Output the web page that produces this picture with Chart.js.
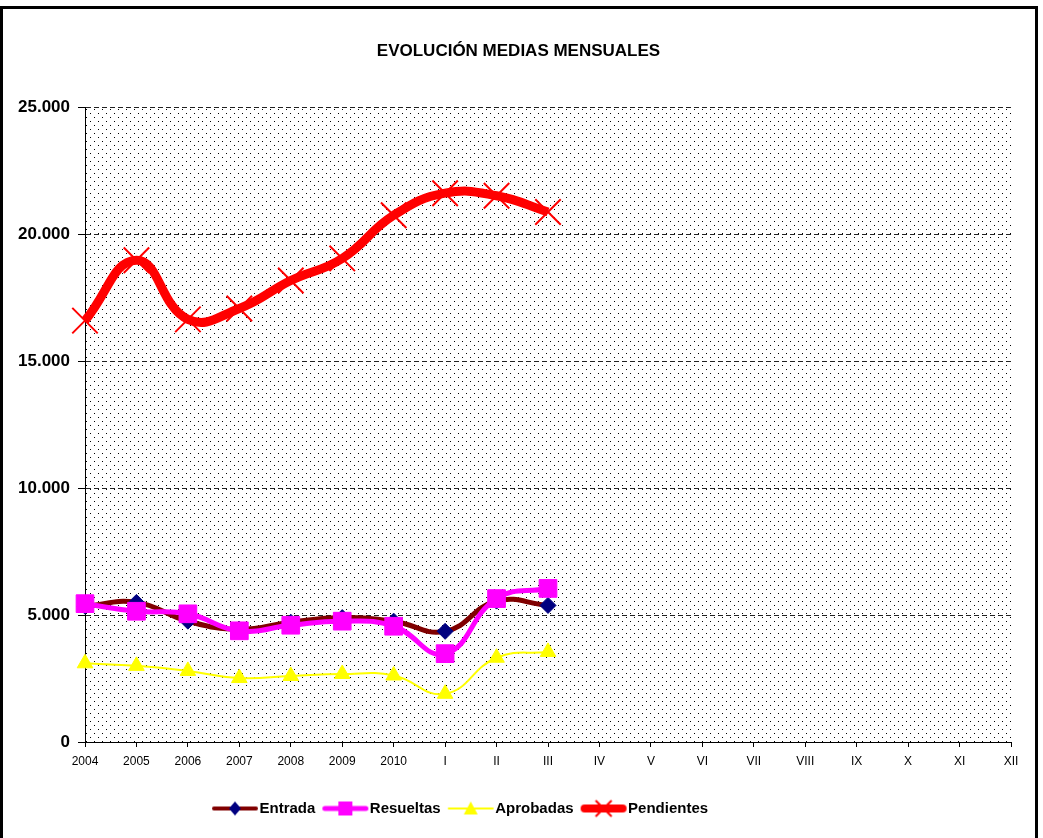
<!DOCTYPE html>
<html>
<head>
<meta charset="utf-8">
<script src="https://cdn.jsdelivr.net/npm/chart.js@4/dist/chart.umd.min.js"></script>
<style>
  html, body { margin: 0; padding: 0; background: #fff; }
  #wrap { position: absolute; left: 0; top: 0; width: 1043px; height: 838px; }
</style>
</head>
<body>
<div id="wrap"><canvas id="c" width="1043" height="838"></canvas></div>
<script>
const categories = ['2004','2005','2006','2007','2008','2009','2010','I','II','III','IV','V','VI','VII','VIII','IX','X','XI','XII'];
const entrada    = [5350, 5500, 4760, 4440, 4720, 4900, 4760, 4360, 5550, 5380];
const resueltas  = [5450, 5150, 5050, 4380, 4600, 4760, 4560, 3480, 5650, 6050];
const aprobadas  = [3100, 3000, 2800, 2520, 2600, 2680, 2620, 1900, 3320, 3550];
const pendientes = [16600, 18980, 16650, 17080, 18180, 19050, 20750, 21620, 21520, 20880];
const yTicks = [0, 5000, 10000, 15000, 20000, 25000];

const FONT = "'Liberation Sans', Arial, sans-serif";

function fmt(v) {
  return String(v).replace(/\B(?=(\d{3})+(?!\d))/g, '.');
}

// legend symbols: line with marker; symbol occupies x in [9, 55] of a 58px image
function legendSymbol(lineColor, lineWidth, drawMarker) {
  const c = document.createElement('canvas');
  c.width = 58; c.height = 22;
  const g = c.getContext('2d');
  const x0 = 9 + lineWidth / 2, x1 = 55 - lineWidth / 2;
  g.strokeStyle = lineColor; g.lineWidth = lineWidth; g.lineCap = 'round';
  g.beginPath(); g.moveTo(x0, 11); g.lineTo(x1, 11); g.stroke();
  drawMarker(g, 32, 11);
  return c;
}
const symEntrada = legendSymbol('#800000', 4, (g, x, y) => {
  g.fillStyle = '#000080';
  g.beginPath(); g.moveTo(x, y - 7); g.lineTo(x + 6, y); g.lineTo(x, y + 7); g.lineTo(x - 6, y); g.closePath(); g.fill();
});
const symResueltas = legendSymbol('#FF00FF', 5, (g, x, y) => {
  g.fillStyle = '#FF00FF'; g.fillRect(x - 7, y - 7, 14, 14);
});
const symAprobadas = legendSymbol('#FFFF00', 2, (g, x, y) => {
  g.fillStyle = '#FFFF00';
  g.beginPath(); g.moveTo(x, y - 7); g.lineTo(x + 7, y + 6); g.lineTo(x - 7, y + 6); g.closePath(); g.fill();
});
const symPendientes = legendSymbol('#FF0000', 8, (g, x, y) => {
  g.strokeStyle = '#FF0000'; g.lineWidth = 2; g.lineCap = 'butt';
  g.beginPath(); g.moveTo(x - 8, y - 8); g.lineTo(x + 8, y + 8); g.moveTo(x + 8, y - 8); g.lineTo(x - 8, y + 8); g.stroke();
});

// dotted background pattern
const pat = document.createElement('canvas');
pat.width = 8; pat.height = 8;
(function () {
  const g = pat.getContext('2d');
  g.fillStyle = '#ffffff'; g.fillRect(0, 0, 8, 8);
  g.fillStyle = '#000000';
  g.fillRect(2, 1, 1, 1);
  g.fillRect(6, 5, 1, 1);
})();

const bgPlugin = {
  id: 'bgPlugin',
  afterLayout(chart) {
    if (chart.legend) {
      const w = chart.legend.right - chart.legend.left;
      chart.legend.left = 205;
      chart.legend.right = 205 + w;
    }
    if (chart.titleBlock) {
      chart.titleBlock.left += 13;
      chart.titleBlock.right += 13;
    }
  },
  beforeDraw(chart) {
    const ctx = chart.ctx, a = chart.chartArea;
    ctx.save();
    ctx.fillStyle = '#ffffff';
    ctx.fillRect(0, 0, chart.width, chart.height);
    ctx.fillStyle = ctx.createPattern(pat, 'repeat');
    ctx.fillRect(a.left, a.top, a.right - a.left, a.bottom - a.top);
    ctx.restore();
  },
  afterDraw(chart) {
    const ctx = chart.ctx;
    ctx.save();
    ctx.strokeStyle = '#000';
    ctx.lineWidth = 3;
    ctx.strokeRect(1.5, 7.5, 1035, 840);
    ctx.restore();
  }
};

new Chart(document.getElementById('c'), {
  type: 'line',
  data: {
    labels: categories,
    datasets: [
      { label: 'Entrada', data: entrada, order: 3, borderColor: '#800000', borderWidth: 5, tension: 0.45,
        pointStyle: 'rectRot', pointRadius: 8, pointBackgroundColor: '#000080', pointBorderColor: '#000080', pointBorderWidth: 1,
        legendSym: symEntrada },
      { label: 'Resueltas', data: resueltas, order: 2, borderColor: '#FF00FF', borderWidth: 5, tension: 0.45,
        pointStyle: 'rect', pointRadius: 12.5, pointBackgroundColor: '#FF00FF', pointBorderColor: '#FF00FF', pointBorderWidth: 1,
        legendSym: symResueltas },
      { label: 'Aprobadas', data: aprobadas, order: 1, borderColor: '#FFFF00', borderWidth: 2, tension: 0.45,
        pointStyle: 'triangle', pointRadius: 9, pointBackgroundColor: '#FFFF00', pointBorderColor: '#FFFF00', pointBorderWidth: 1,
        legendSym: symAprobadas },
      { label: 'Pendientes', data: pendientes, order: 0, borderColor: '#FF0000', borderWidth: 9, tension: 0.45,
        pointStyle: 'crossRot', pointRadius: 18, pointBackgroundColor: '#FF0000', pointBorderColor: '#FF0000', pointBorderWidth: 2,
        legendSym: symPendientes }
    ]
  },
  options: {
    responsive: false,
    animation: false,
    devicePixelRatio: 1,
    layout: { padding: { left: 0, right: 32, top: 0, bottom: 12 } },
    plugins: {
      title: {
        display: true, text: 'EVOLUCIÓN MEDIAS MENSUALES', color: '#000',
        font: { family: FONT, size: 17, weight: 'bold' },
        padding: { top: 41, bottom: 46 }
      },
      legend: {
        position: 'bottom',
        align: 'start',
        labels: {
          usePointStyle: true, pointStyleWidth: 40, boxHeight: 20, padding: 7,
          color: '#000', font: { family: FONT, size: 15, weight: 'bold' },
          generateLabels(chart) {
            return chart.data.datasets.map((ds, i) => ({
              text: ds.label, pointStyle: ds.legendSym, fillStyle: 'transparent', strokeStyle: 'transparent',
              lineWidth: 0, datasetIndex: i, hidden: false, fontColor: '#000'
            }));
          }
        }
      },
      tooltip: { enabled: false }
    },
    scales: {
      x: {
        offset: false,
        grid: { display: true, drawOnChartArea: false, drawTicks: true, tickLength: 5, color: '#000', tickColor: '#000' },
        border: { display: true, color: '#000', width: 1 },
        ticks: { color: '#000', font: { family: FONT, size: 12 }, padding: 7, maxRotation: 0, autoSkip: false },
        afterFit(scale) { scale.height = 52; }
      },
      y: {
        min: 0, max: 25000,
        afterBuildTicks(scale) { scale.ticks = yTicks.map(v => ({ value: v })); },
        grid: { display: true, color: '#222', lineWidth: 1, tickLength: 7, tickColor: '#000', tickBorderDash: [] },
        border: { display: true, color: '#000', width: 1, dash: [5, 3] },
        ticks: { color: '#000', font: { family: FONT, size: 17, weight: 'bold' }, padding: 8,
          callback: (v) => fmt(v) },
        afterFit(scale) { scale.width = 85; }
      }
    }
  },
  plugins: [bgPlugin]
});
</script>
</body>
</html>
